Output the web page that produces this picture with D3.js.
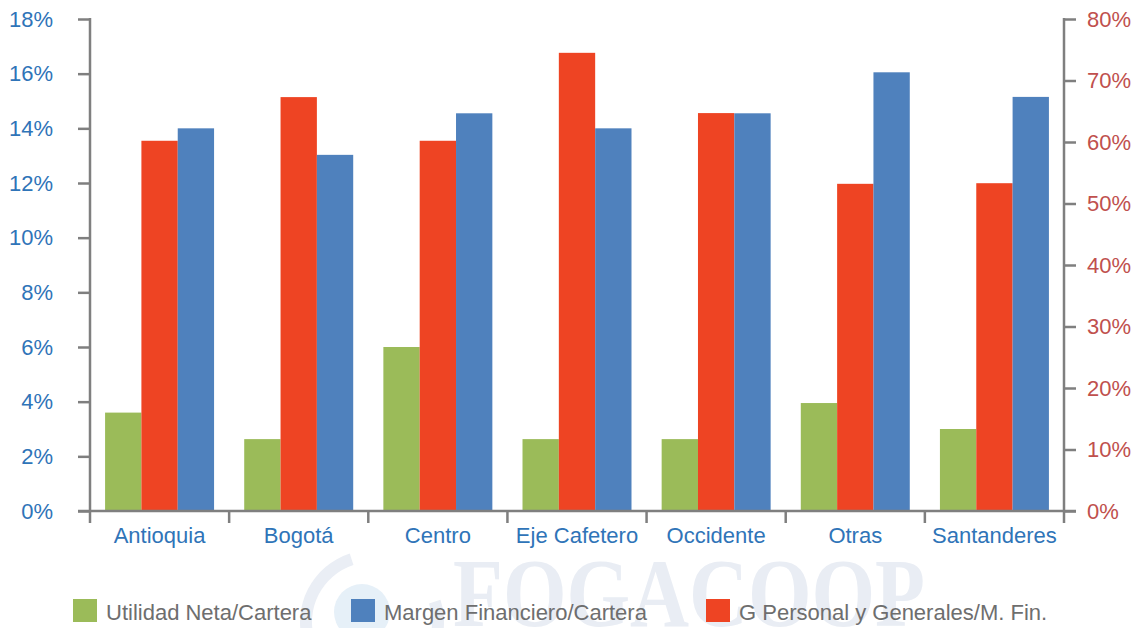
<!DOCTYPE html>
<html>
<head>
<meta charset="utf-8">
<script src="https://cdn.jsdelivr.net/npm/d3@7"></script>
<style>
  html, body { margin: 0; padding: 0; background: #ffffff; }
  svg { display: block; }
</style>
</head>
<body>
<svg id="chart" width="1134" height="628"></svg>
<script>
const categories = ["Antioquia", "Bogotá", "Centro", "Eje Cafetero", "Occidente", "Otras", "Santanderes"];
const utilidadNeta = [3.6, 2.63, 6.0, 2.63, 2.63, 3.95, 3.0];          // left axis (%)
const gPersonal = [60.2, 67.3, 60.2, 74.5, 64.7, 53.2, 53.3];         // right axis (%)
const margenFinanciero = [14.0, 13.03, 14.55, 14.0, 14.55, 16.05, 15.15]; // left axis (%)
const leftTicks = [0, 2, 4, 6, 8, 10, 12, 14, 16, 18];
const rightTicks = [0, 10, 20, 30, 40, 50, 60, 70, 80];
const seriesNames = ["Utilidad Neta/Cartera", "G Personal y Generales/M. Fin.", "Margen Financiero/Cartera"];
const legendOrder = ["Utilidad Neta/Cartera", "Margen Financiero/Cartera", "G Personal y Generales/M. Fin."];

const colors = {
  "Utilidad Neta/Cartera": "#9bbb59",
  "Margen Financiero/Cartera": "#4f81bd",
  "G Personal y Generales/M. Fin.": "#ee4423"
};

const svg = d3.select("#chart");
const plotLeft = 90, plotRight = 1064, plotTop = 19, plotBottom = 511;
const axisColor = "#7f7f7f";
const font = "'Liberation Sans', Arial, sans-serif";
const fs = 22;

// Watermark (behind everything)
const wm = svg.append("g").attr("class", "watermark");
wm.append("path")
  .attr("d", d3.arc()({innerRadius: 60, outerRadius: 72, startAngle: 0.4 * Math.PI, endAngle: 1.9 * Math.PI}))
  .attr("transform", "translate(372,622)")
  .attr("fill", "#eaeef5");
wm.append("circle").attr("cx", 362).attr("cy", 612).attr("r", 28).attr("fill", "#e6f0f8");
wm.append("text")
  .attr("x", 453).attr("y", 626)
  .attr("textLength", 472).attr("lengthAdjust", "spacingAndGlyphs")
  .attr("font-family", "'Liberation Serif', 'DejaVu Serif', serif")
  .attr("font-weight", "bold")
  .attr("font-size", 98)
  .attr("fill", "#e9edf4")
  .text("FOGACOOP");

const x0 = d3.scaleBand().domain(categories).range([plotLeft, plotRight]).padding(0);
const x1 = d3.scaleBand().domain(seriesNames).range([0, x0.bandwidth()]).paddingInner(0).paddingOuter(0.415);
const yL = d3.scaleLinear().domain([0, 18]).range([plotBottom, plotTop]);
const yR = d3.scaleLinear().domain([0, 80]).range([plotBottom, plotTop]);

const rows = categories.map((c, i) => ({
  cat: c,
  vals: [
    {s: seriesNames[0], v: utilidadNeta[i], y: yL},
    {s: seriesNames[1], v: gPersonal[i], y: yR},
    {s: seriesNames[2], v: margenFinanciero[i], y: yL}
  ]
}));

const groups = svg.append("g").selectAll("g").data(rows).join("g")
  .attr("transform", d => `translate(${x0(d.cat)},0)`);
groups.selectAll("rect").data(d => d.vals).join("rect")
  .attr("x", d => x1(d.s))
  .attr("width", x1.bandwidth())
  .attr("y", d => d.y(d.v))
  .attr("height", d => plotBottom - d.y(d.v))
  .attr("fill", d => colors[d.s]);

// Left axis
const gl = svg.append("g").attr("transform", `translate(${plotLeft},0)`)
  .call(d3.axisLeft(yL).tickValues(leftTicks).tickFormat(d => d + "%").tickSize(12).tickPadding(25).tickSizeOuter(0));
gl.select(".domain").remove();
gl.selectAll(".tick line").attr("stroke", axisColor).attr("stroke-width", 2.5);
gl.selectAll(".tick text").attr("fill", "#2f74b8").attr("font-size", fs).attr("font-family", font);
svg.append("line").attr("x1", plotLeft).attr("x2", plotLeft).attr("y1", plotTop - 1).attr("y2", plotBottom + 12)
  .attr("stroke", axisColor).attr("stroke-width", 2.5);

// Right axis
const gr = svg.append("g").attr("transform", `translate(${plotRight},0)`)
  .call(d3.axisRight(yR).tickValues(rightTicks).tickFormat(d => d + "%").tickSize(12).tickPadding(11).tickSizeOuter(0));
gr.select(".domain").remove();
gr.selectAll(".tick line").attr("stroke", axisColor).attr("stroke-width", 2.5);
gr.selectAll(".tick text").attr("fill", "#c0504d").attr("font-size", fs).attr("font-family", font);
svg.append("line").attr("x1", plotRight).attr("x2", plotRight).attr("y1", plotTop - 1).attr("y2", plotBottom + 12)
  .attr("stroke", axisColor).attr("stroke-width", 2.5);

// Bottom axis
svg.append("line").attr("x1", plotLeft - 12).attr("x2", plotRight + 12).attr("y1", plotBottom).attr("y2", plotBottom)
  .attr("stroke", axisColor).attr("stroke-width", 2.5);
const gb = svg.append("g").attr("transform", `translate(0,${plotBottom})`)
  .call(d3.axisBottom(x0).tickSize(0).tickPadding(16));
gb.select(".domain").remove();
gb.selectAll(".tick text").attr("fill", "#2f74b8").attr("font-size", fs).attr("font-family", font);
svg.append("g").selectAll("line").data(categories.slice(1)).join("line")
  .attr("x1", d => x0(d)).attr("x2", d => x0(d))
  .attr("y1", plotBottom).attr("y2", plotBottom + 12)
  .attr("stroke", axisColor).attr("stroke-width", 2.5);

// Legend
const legendX = [73, 351, 706];
const lg = svg.append("g").selectAll("g").data(legendOrder).join("g")
  .attr("transform", (d, i) => `translate(${legendX[i]},599)`);
lg.append("rect").attr("width", 24).attr("height", 23).attr("fill", d => colors[d]);
lg.append("text").attr("x", 33).attr("y", 21)
  .attr("font-family", font).attr("font-size", fs).attr("fill", "#6e6e6e")
  .text(d => d);
</script>
</body>
</html>
